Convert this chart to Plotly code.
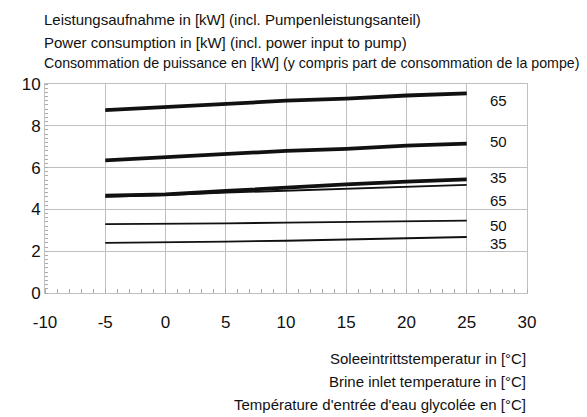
import plotly.graph_objects as go

temps = [-5, 0, 5, 10, 15, 20, 25]
thick_65 = [8.75, 8.9, 9.05, 9.2, 9.3, 9.45, 9.55]
thick_50 = [6.35, 6.5, 6.65, 6.8, 6.9, 7.05, 7.15]
thick_35 = [4.66, 4.72, 4.88, 5.05, 5.2, 5.33, 5.44]
thin_65 = [4.6, 4.68, 4.8, 4.9, 5.0, 5.09, 5.17]
thin_50 = [3.3, 3.3, 3.33, 3.37, 3.4, 3.43, 3.46]
thin_35 = [2.4, 2.42, 2.46, 2.5, 2.56, 2.62, 2.68]

x_ticks = [-10, -5, 0, 5, 10, 15, 20, 25, 30]
x_ticktext = ["-10", "-5", "0", "5", "10", "15", "20", "25", "30"]
y_ticks = [0, 2, 4, 6, 8, 10]

label_x = 27.6
label_texts = ["65", "50", "35", "65", "50", "35"]
label_y = [9.19, 7.24, 5.55, 4.42, 3.25, 2.39]

series = [
    (thick_65, 3.8), (thick_50, 3.8), (thick_35, 3.8),
    (thin_65, 1.8), (thin_50, 1.8), (thin_35, 1.8),
]

fig = go.Figure()
for ys, w in series:
    fig.add_trace(go.Scatter(x=temps, y=ys, mode="lines",
                             line=dict(color="#111111", width=w),
                             showlegend=False, hoverinfo="skip"))

for t, yv in zip(label_texts, label_y):
    fig.add_annotation(x=label_x, y=yv, text=t, showarrow=False,
                       font=dict(size=15, color="#111111", family="Liberation Sans, Arial"),
                       xref="x", yref="y")

grid = "#c0c0c0"
fig.update_xaxes(range=[-10, 30], tickvals=x_ticks, ticktext=x_ticktext,
                 showgrid=True, gridcolor=grid, gridwidth=1,
                 showline=True, linecolor=grid, linewidth=1, mirror=True,
                 zeroline=False, ticks="", ticklen=0, ticklabelstandoff=14,
                 tickfont=dict(size=17, color="#111111", family="Liberation Sans, Arial"),
                 minor=dict(dtick=1, ticks="inside", ticklen=4, tickcolor="#aaaaaa", showgrid=False))
fig.update_yaxes(range=[0, 10], tickvals=y_ticks,
                 showgrid=True, gridcolor=grid, gridwidth=1,
                 showline=True, linecolor=grid, linewidth=1, mirror=True,
                 zeroline=False, ticks="", ticklen=0,
                 tickfont=dict(size=17, color="#111111", family="Liberation Sans, Arial"),
                 minor=dict(dtick=0.2, ticks="inside", ticklen=3, tickcolor="#aaaaaa", showgrid=False))

# page body has an 8px default margin; plot area in window pixels: x 45..527, y 84..293
PL, PR, PT, PB = 45, 527, 84, 293


def to_paper(px, py):
    return (px - PL) / (PR - PL), 1 - (py - PT) / (PB - PT)


top_lines = [
    ("Leistungsaufnahme in [kW] (incl. Pumpenleistungsanteil)", 19, 15),
    ("Power consumption in [kW] (incl. power input to pump)", 42, 15),
    ("Consommation de puissance en [kW] (y compris part de consommation de la pompe)", 63, 14.2),
]
for txt, ypix, sz in top_lines:
    xp, yp = to_paper(42, ypix)
    fig.add_annotation(x=xp, y=yp, xref="paper", yref="paper",
                       text=txt, showarrow=False, xanchor="left", yanchor="middle",
                       font=dict(size=sz, color="#111111", family="Liberation Sans, Arial"))

bottom_lines = [
    ("Soleeintrittstemperatur in [°C]", 358),
    ("Brine inlet temperature in [°C]", 381),
    ("Température d'entrée d'eau glycolée en [°C]", 404),
]
for txt, ypix in bottom_lines:
    xp, yp = to_paper(528, ypix)
    fig.add_annotation(x=xp, y=yp, xref="paper", yref="paper",
                       text=txt, showarrow=False, xanchor="right", yanchor="middle",
                       font=dict(size=15, color="#111111", family="Liberation Sans, Arial"))

W, H = 579, 409
ml, mt = PL - 8, PT - 8
mr = W - ml - (PR - PL)
mb = H - mt - (PB - PT)
fig.update_layout(
    width=W, height=H,
    margin=dict(l=ml, r=mr, t=mt, b=mb, autoexpand=False),
    paper_bgcolor="white", plot_bgcolor="white",
)

fig.write_html("out.html")
